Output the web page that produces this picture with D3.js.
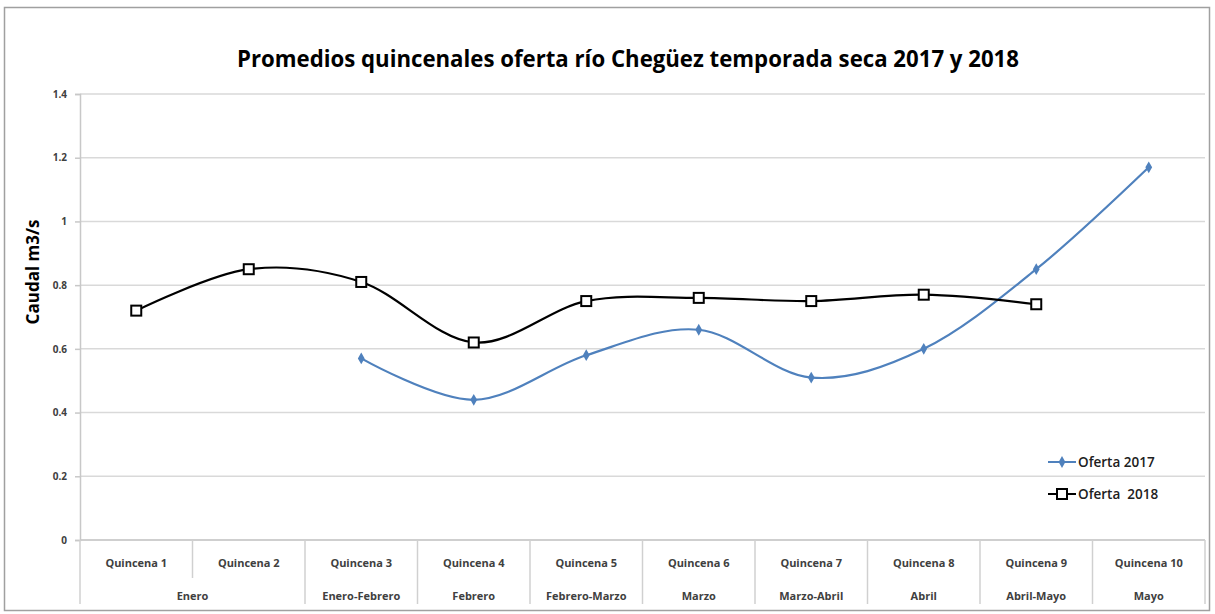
<!DOCTYPE html>
<html>
<head>
<meta charset="utf-8">
<script src="https://cdn.jsdelivr.net/npm/d3@7"></script>
<style>
  body { margin: 0; background: #fff; }
  text { font-family: "Open Sans", sans-serif; }
</style>
</head>
<body>
<div id="grafico"></div>
<script>
// datos
const quincenas = ["Quincena 1", "Quincena 2", "Quincena 3", "Quincena 4", "Quincena 5",
                   "Quincena 6", "Quincena 7", "Quincena 8", "Quincena 9", "Quincena 10"];
const meses = ["Enero", "Enero", "Enero-Febrero", "Febrero", "Febrero-Marzo",
               "Marzo", "Marzo-Abril", "Abril", "Abril-Mayo", "Mayo"];
const oferta2017 = [null, null, 0.57, 0.44, 0.58, 0.66, 0.51, 0.60, 0.85, 1.17];
const oferta2018 = [0.72, 0.85, 0.81, 0.62, 0.75, 0.76, 0.75, 0.77, 0.74, null];
const ticksY = [0, 0.2, 0.4, 0.6, 0.8, 1, 1.2, 1.4];

const titulo = "Promedios quincenales oferta río Chegüez temporada seca 2017 y 2018";

const largura = 1215, altura = 614;
const esq = 80, dir = 1205, topo = 94, base = 540;

const svg = d3.select("#grafico").append("svg")
    .attr("width", largura)
    .attr("height", altura);

// moldura do grafico
svg.append("rect")
    .attr("x", 4.5).attr("y", 7.5)
    .attr("width", 1205).attr("height", 603)
    .attr("fill", "none")
    .attr("stroke", "#a0a0a0")
    .attr("stroke-width", 1.5);

const x = d3.scaleBand().domain(quincenas).range([esq, dir]).padding(0);
const y = d3.scaleLinear().domain([0, 1.4]).range([base, topo]);

// linhas de grade
svg.append("g")
    .selectAll("line")
    .data(ticksY)
    .enter()
    .append("line")
    .attr("x1", esq).attr("x2", dir)
    .attr("y1", d => y(d)).attr("y2", d => y(d))
    .attr("stroke", "#d9d9d9")
    .attr("stroke-width", 1.5);

// eixo y
const eixoY = svg.append("g")
    .attr("transform", `translate(${esq},0)`)
    .call(d3.axisLeft(y).tickValues(ticksY).tickSize(5).tickPadding(8)
        .tickFormat(d => String(+d.toFixed(1))));
eixoY.select(".domain").attr("stroke", "#c8c8c8").attr("stroke-width", 1.5);
eixoY.selectAll(".tick line").attr("stroke", "#c8c8c8").attr("stroke-width", 1.5);
eixoY.selectAll(".tick text")
    .attr("fill", "#404040")
    .style("font-size", "10px")
    .style("font-weight", "bold");

// linha base do eixo x
svg.append("line")
    .attr("x1", esq).attr("x2", dir)
    .attr("y1", base).attr("y2", base)
    .attr("stroke", "#c8c8c8").attr("stroke-width", 1.5);

// separadores das categorias (dois niveis)
const limites = quincenas.map((q, i) => i).concat([quincenas.length]);
svg.append("g")
    .selectAll("line")
    .data(limites)
    .enter()
    .append("line")
    .attr("x1", i => i < quincenas.length ? x(quincenas[i]) : dir)
    .attr("x2", i => i < quincenas.length ? x(quincenas[i]) : dir)
    .attr("y1", base)
    .attr("y2", i => (i > 0 && i < meses.length && meses[i] === meses[i - 1]) ? 578 : 604)
    .attr("stroke", "#d0d0d0")
    .attr("stroke-width", 1.5);

// rotulos das quinzenas
svg.append("g")
    .selectAll("text")
    .data(quincenas)
    .enter()
    .append("text")
    .attr("x", d => x(d) + x.bandwidth() / 2)
    .attr("y", 567)
    .attr("text-anchor", "middle")
    .attr("fill", "#404040")
    .style("font-size", "11px")
    .style("font-weight", "bold")
    .text(d => d);

// rotulos dos meses (agrupados)
const grupos = [];
meses.forEach((m, i) => {
    const ult = grupos[grupos.length - 1];
    if (ult && ult.mes === m) ult.fim = i;
    else grupos.push({ mes: m, ini: i, fim: i });
});
svg.append("g")
    .selectAll("text")
    .data(grupos)
    .enter()
    .append("text")
    .attr("x", g => (x(quincenas[g.ini]) + x(quincenas[g.fim]) + x.bandwidth()) / 2)
    .attr("y", 600)
    .attr("text-anchor", "middle")
    .attr("fill", "#404040")
    .style("font-size", "11px")
    .style("font-weight", "bold")
    .text(g => g.mes);

// titulo
svg.append("text")
    .attr("x", 628)
    .attr("y", 67)
    .attr("text-anchor", "middle")
    .attr("fill", "#000")
    .attr("textLength", 782)
    .attr("lengthAdjust", "spacingAndGlyphs")
    .style("font-size", "24px")
    .style("font-weight", "bold")
    .text(titulo);

// titulo do eixo y
svg.append("text")
    .attr("transform", "translate(39,272) rotate(-90)")
    .attr("text-anchor", "middle")
    .attr("fill", "#000")
    .style("font-size", "17px")
    .style("font-weight", "bold")
    .text("Caudal m3/s");

// series
const linha = d3.line()
    .defined(d => d.v !== null)
    .x(d => x(d.q) + x.bandwidth() / 2)
    .y(d => y(d.v))
    .curve(d3.curveCardinal.tension(0));

const s2017 = quincenas.map((q, i) => ({ q: q, v: oferta2017[i] }));
const s2018 = quincenas.map((q, i) => ({ q: q, v: oferta2018[i] }));

const azul = "#4f81bd";

svg.append("path")
    .datum(s2017)
    .attr("d", linha)
    .attr("fill", "none")
    .attr("stroke", azul)
    .attr("stroke-width", 2.2);

svg.append("path")
    .datum(s2018)
    .attr("d", linha)
    .attr("fill", "none")
    .attr("stroke", "#000")
    .attr("stroke-width", 2.2);

const losango = d3.symbol().type(d3.symbolDiamond).size(40);

svg.append("g")
    .selectAll("path")
    .data(s2017.filter(d => d.v !== null))
    .enter()
    .append("path")
    .attr("d", losango)
    .attr("transform", d => `translate(${x(d.q) + x.bandwidth() / 2},${y(d.v)})`)
    .attr("fill", azul);

svg.append("g")
    .selectAll("rect")
    .data(s2018.filter(d => d.v !== null))
    .enter()
    .append("rect")
    .attr("x", d => x(d.q) + x.bandwidth() / 2 - 5)
    .attr("y", d => y(d.v) - 5)
    .attr("width", 10)
    .attr("height", 10)
    .attr("fill", "#fff")
    .attr("stroke", "#000")
    .attr("stroke-width", 2);

// legenda
const leg = svg.append("g");
leg.append("line")
    .attr("x1", 1048).attr("x2", 1076).attr("y1", 462).attr("y2", 462)
    .attr("stroke", azul).attr("stroke-width", 2);
leg.append("path")
    .attr("d", losango)
    .attr("transform", "translate(1062,462)")
    .attr("fill", azul);
leg.append("text")
    .attr("x", 1078).attr("y", 467)
    .attr("fill", "#202020")
    .style("font-size", "13.5px")
    .style("font-weight", "600")
    .text("Oferta 2017");

leg.append("line")
    .attr("x1", 1048).attr("x2", 1076).attr("y1", 494).attr("y2", 494)
    .attr("stroke", "#000").attr("stroke-width", 2);
leg.append("rect")
    .attr("x", 1057).attr("y", 489)
    .attr("width", 10).attr("height", 10)
    .attr("fill", "#fff").attr("stroke", "#000").attr("stroke-width", 2);
leg.append("text")
    .attr("x", 1078).attr("y", 499)
    .attr("fill", "#202020")
    .style("font-size", "13.5px")
    .style("font-weight", "600")
    .style("white-space", "pre")
    .text("Oferta  2018");
</script>
</body>
</html>
